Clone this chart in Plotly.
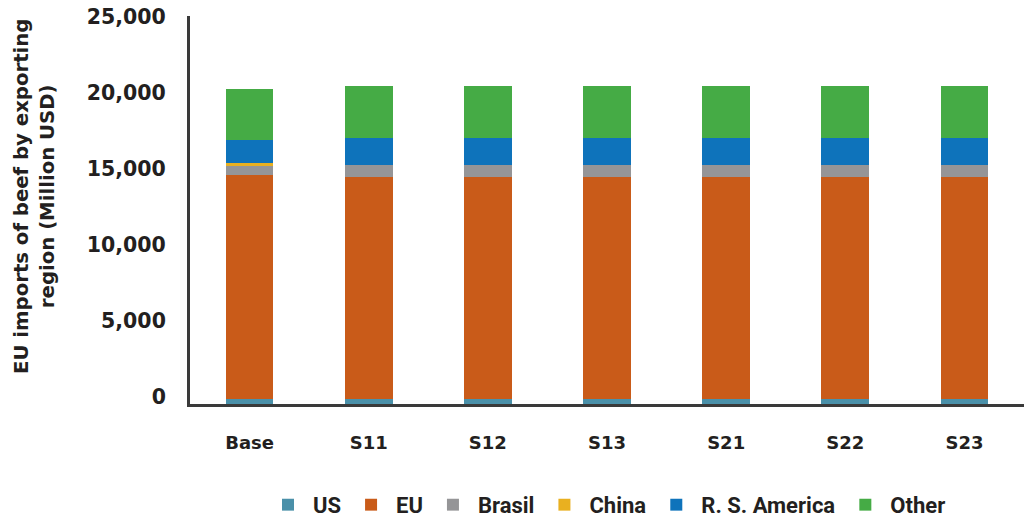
import plotly.graph_objects as go

# Scenarios on the x axis
scenarios = ["Base", "S11", "S12", "S13", "S21", "S22", "S23"]

# EU beef imports by exporting region (million USD)
us = [310, 310, 310, 310, 310, 310, 310]
eu = [14760, 14620, 14620, 14620, 14620, 14620, 14620]
brasil = [590, 790, 790, 790, 790, 790, 790]
china = [200, 10, 10, 10, 10, 10, 10]
rs_america = [1510, 1780, 1780, 1780, 1780, 1780, 1780]
other = [3350, 3360, 3360, 3360, 3360, 3360, 3360]

series = [
    ("US", us, "#4A90A9"),
    ("EU", eu, "#C95B19"),
    ("Brasil", brasil, "#959597"),
    ("China", china, "#E9B020"),
    ("R. S. America", rs_america, "#0E73BB"),
    ("Other", other, "#45AB45"),
]

y_ticks = [0, 5000, 10000, 15000, 20000, 25000]
y_title = "EU imports of beef by exporting<br>region (Million USD)"

fig = go.Figure()
for name, vals, color in series:
    fig.add_trace(go.Bar(
        x=scenarios, y=vals, name=name,
        marker=dict(color=color, line=dict(width=0)),
    ))

ink = "#231F20"
bold_font = "DejaVu Sans"

# plot area: x 190..1024 px, y 16..404 px
fig.update_layout(
    barmode="stack",
    bargap=0.6,
    width=1024, height=521,
    margin=dict(l=190, r=0, t=16, b=117, autoexpand=False),
    plot_bgcolor="white",
    paper_bgcolor="white",
    showlegend=True,
    legend=dict(
        orientation="h", x=0.5, xanchor="center", y=-0.314, yanchor="bottom",
        traceorder="normal",
        font=dict(family="Roboto", size=22, color=ink, weight=700),
        itemwidth=40, tracegroupgap=0,
    ),
    xaxis=dict(
        showline=True, linecolor="#3A3A3A", linewidth=3,
        showgrid=False, ticks="", ticklabelstandoff=20,
        tickfont=dict(family=bold_font, size=18, color=ink, weight=700),
    ),
    yaxis=dict(
        range=[0, 25500], tickvals=y_ticks,
        tickformat=",d",
        showline=True, linecolor="#3A3A3A", linewidth=3,
        showgrid=False, zeroline=False, ticks="",
        ticklabelstandoff=17, ticklabelshift=-7,
        ticklabeloverflow="allow",
        tickfont=dict(family=bold_font, size=20.5, color=ink, weight=700),
    ),
    annotations=[dict(
        text=y_title, textangle=-90,
        xref="paper", yref="paper",
        x=-(190 - 34) / 834, y=(404 - 197) / 388,
        xanchor="center", yanchor="middle", showarrow=False,
        font=dict(family=bold_font, size=19.7, color=ink, weight=700),
    )],
)

fig.write_html("out.html")
